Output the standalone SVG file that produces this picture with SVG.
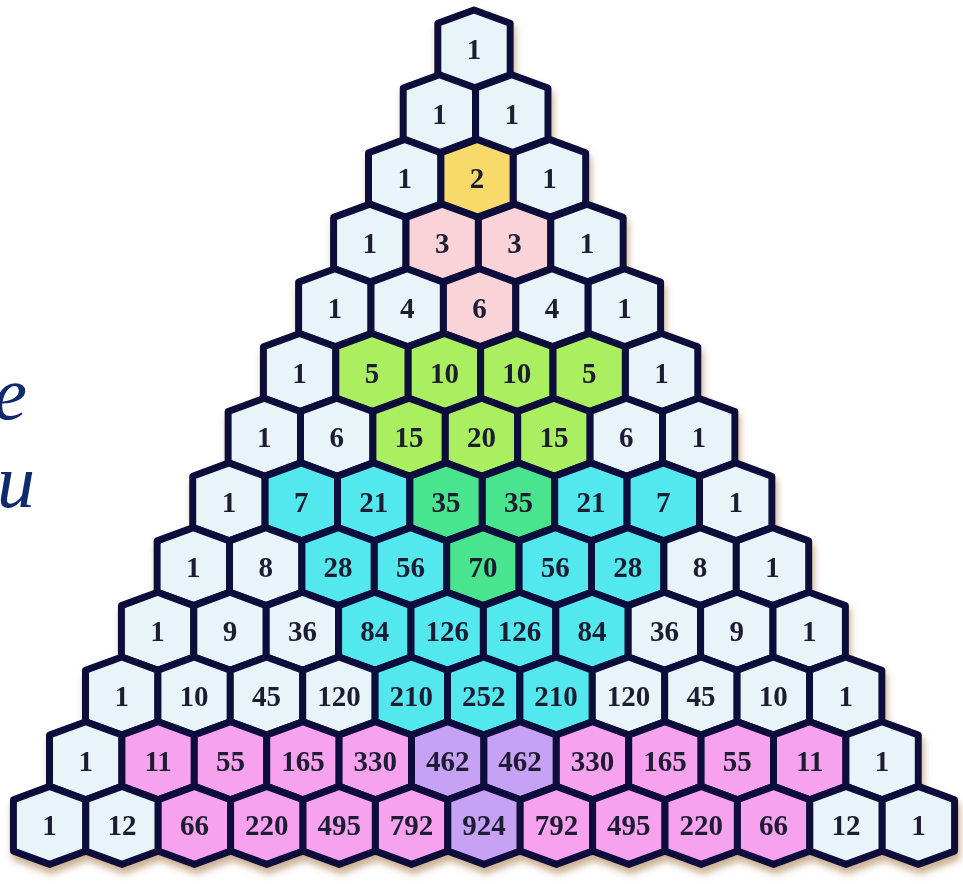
<svg xmlns="http://www.w3.org/2000/svg" xmlns:xlink="http://www.w3.org/1999/xlink" width="963" height="884" viewBox="0 0 963 884">
<style>
.L{fill:#e9f4f9}.Y{fill:#f7da6a}.P{fill:#f9d3d8}.G{fill:#a9ef5e}.E{fill:#48e58e}.C{fill:#52e7ee}.M{fill:#f6a2ef}.V{fill:#c7a2f4}
text.v{font-family:"Liberation Serif","Times New Roman",serif;font-size:29px;font-weight:bold;text-anchor:middle;fill:#1e1a30}
text.side{font-family:"Liberation Serif","Times New Roman",serif;font-style:italic;font-size:76px;fill:#0f2b6e;text-anchor:end}
</style>
<defs>
<polygon id="h" points="0,-39 36.2,-25.7 36.2,25.7 0,39 -36.2,25.7 -36.2,-25.7" stroke="#0c0b3a" stroke-width="7" stroke-linejoin="round"/>
<filter id="sh" x="-5%" y="-5%" width="110%" height="115%">
<feDropShadow dx="2" dy="6" stdDeviation="3.5" flood-color="#a0703a" flood-opacity="0.55"/>
</filter>
</defs>
<rect width="963" height="884" fill="#ffffff"/>
<text class="side" x="27" y="419">e</text>
<text class="side" x="35" y="507">u</text>
<g id="connectors"/>
<g id="nodes" filter="url(#sh)">
<g id="r0c0"><use href="#h" x="474" y="49" class="L"/><text class="v" x="474" y="59">1</text></g>

<g id="r1c0"><use href="#h" x="439.4" y="113.7" class="L"/><text class="v" x="439.4" y="123.7">1</text></g>
<g id="r1c1"><use href="#h" x="511.8" y="113.7" class="L"/><text class="v" x="511.8" y="123.7">1</text></g>

<g id="r2c0"><use href="#h" x="404.7" y="178.4" class="L"/><text class="v" x="404.7" y="188.4">1</text></g>
<g id="r2c1"><use href="#h" x="477.1" y="178.4" class="Y"/><text class="v" x="477.1" y="188.4">2</text></g>
<g id="r2c2"><use href="#h" x="549.5" y="178.4" class="L"/><text class="v" x="549.5" y="188.4">1</text></g>

<g id="r3c0"><use href="#h" x="369.8" y="243.1" class="L"/><text class="v" x="369.8" y="253.1">1</text></g>
<g id="r3c1"><use href="#h" x="442.2" y="243.1" class="P"/><text class="v" x="442.2" y="253.1">3</text></g>
<g id="r3c2"><use href="#h" x="514.6" y="243.1" class="P"/><text class="v" x="514.6" y="253.1">3</text></g>
<g id="r3c3"><use href="#h" x="587" y="243.1" class="L"/><text class="v" x="587" y="253.1">1</text></g>

<g id="r4c0"><use href="#h" x="334.8" y="307.8" class="L"/><text class="v" x="334.8" y="317.8">1</text></g>
<g id="r4c1"><use href="#h" x="407.2" y="307.8" class="L"/><text class="v" x="407.2" y="317.8">4</text></g>
<g id="r4c2"><use href="#h" x="479.6" y="307.8" class="P"/><text class="v" x="479.6" y="317.8">6</text></g>
<g id="r4c3"><use href="#h" x="552" y="307.8" class="L"/><text class="v" x="552" y="317.8">4</text></g>
<g id="r4c4"><use href="#h" x="624.4" y="307.8" class="L"/><text class="v" x="624.4" y="317.8">1</text></g>

<g id="r5c0"><use href="#h" x="299.6" y="372.5" class="L"/><text class="v" x="299.6" y="382.5">1</text></g>
<g id="r5c1"><use href="#h" x="372" y="372.5" class="G"/><text class="v" x="372" y="382.5">5</text></g>
<g id="r5c2"><use href="#h" x="444.4" y="372.5" class="G"/><text class="v" x="444.4" y="382.5">10</text></g>
<g id="r5c3"><use href="#h" x="516.8" y="372.5" class="G"/><text class="v" x="516.8" y="382.5">10</text></g>
<g id="r5c4"><use href="#h" x="589.2" y="372.5" class="G"/><text class="v" x="589.2" y="382.5">5</text></g>
<g id="r5c5"><use href="#h" x="661.6" y="372.5" class="L"/><text class="v" x="661.6" y="382.5">1</text></g>

<g id="r6c0"><use href="#h" x="264.3" y="437.2" class="L"/><text class="v" x="264.3" y="447.2">1</text></g>
<g id="r6c1"><use href="#h" x="336.7" y="437.2" class="L"/><text class="v" x="336.7" y="447.2">6</text></g>
<g id="r6c2"><use href="#h" x="409.1" y="437.2" class="G"/><text class="v" x="409.1" y="447.2">15</text></g>
<g id="r6c3"><use href="#h" x="481.5" y="437.2" class="G"/><text class="v" x="481.5" y="447.2">20</text></g>
<g id="r6c4"><use href="#h" x="553.9" y="437.2" class="G"/><text class="v" x="553.9" y="447.2">15</text></g>
<g id="r6c5"><use href="#h" x="626.3" y="437.2" class="L"/><text class="v" x="626.3" y="447.2">6</text></g>
<g id="r6c6"><use href="#h" x="698.7" y="437.2" class="L"/><text class="v" x="698.7" y="447.2">1</text></g>

<g id="r7c0"><use href="#h" x="228.9" y="501.9" class="L"/><text class="v" x="228.9" y="511.9">1</text></g>
<g id="r7c1"><use href="#h" x="301.3" y="501.9" class="C"/><text class="v" x="301.3" y="511.9">7</text></g>
<g id="r7c2"><use href="#h" x="373.7" y="501.9" class="C"/><text class="v" x="373.7" y="511.9">21</text></g>
<g id="r7c3"><use href="#h" x="446.1" y="501.9" class="E"/><text class="v" x="446.1" y="511.9">35</text></g>
<g id="r7c4"><use href="#h" x="518.5" y="501.9" class="E"/><text class="v" x="518.5" y="511.9">35</text></g>
<g id="r7c5"><use href="#h" x="590.9" y="501.9" class="C"/><text class="v" x="590.9" y="511.9">21</text></g>
<g id="r7c6"><use href="#h" x="663.3" y="501.9" class="C"/><text class="v" x="663.3" y="511.9">7</text></g>
<g id="r7c7"><use href="#h" x="735.7" y="501.9" class="L"/><text class="v" x="735.7" y="511.9">1</text></g>

<g id="r8c0"><use href="#h" x="193.3" y="566.6" class="L"/><text class="v" x="193.3" y="576.6">1</text></g>
<g id="r8c1"><use href="#h" x="265.7" y="566.6" class="L"/><text class="v" x="265.7" y="576.6">8</text></g>
<g id="r8c2"><use href="#h" x="338.1" y="566.6" class="C"/><text class="v" x="338.1" y="576.6">28</text></g>
<g id="r8c3"><use href="#h" x="410.5" y="566.6" class="C"/><text class="v" x="410.5" y="576.6">56</text></g>
<g id="r8c4"><use href="#h" x="482.9" y="566.6" class="E"/><text class="v" x="482.9" y="576.6">70</text></g>
<g id="r8c5"><use href="#h" x="555.3" y="566.6" class="C"/><text class="v" x="555.3" y="576.6">56</text></g>
<g id="r8c6"><use href="#h" x="627.7" y="566.6" class="C"/><text class="v" x="627.7" y="576.6">28</text></g>
<g id="r8c7"><use href="#h" x="700.1" y="566.6" class="L"/><text class="v" x="700.1" y="576.6">8</text></g>
<g id="r8c8"><use href="#h" x="772.5" y="566.6" class="L"/><text class="v" x="772.5" y="576.6">1</text></g>

<g id="r9c0"><use href="#h" x="157.6" y="631.3" class="L"/><text class="v" x="157.6" y="641.3">1</text></g>
<g id="r9c1"><use href="#h" x="230" y="631.3" class="L"/><text class="v" x="230" y="641.3">9</text></g>
<g id="r9c2"><use href="#h" x="302.4" y="631.3" class="L"/><text class="v" x="302.4" y="641.3">36</text></g>
<g id="r9c3"><use href="#h" x="374.8" y="631.3" class="C"/><text class="v" x="374.8" y="641.3">84</text></g>
<g id="r9c4"><use href="#h" x="447.2" y="631.3" class="C"/><text class="v" x="447.2" y="641.3">126</text></g>
<g id="r9c5"><use href="#h" x="519.6" y="631.3" class="C"/><text class="v" x="519.6" y="641.3">126</text></g>
<g id="r9c6"><use href="#h" x="592" y="631.3" class="C"/><text class="v" x="592" y="641.3">84</text></g>
<g id="r9c7"><use href="#h" x="664.4" y="631.3" class="L"/><text class="v" x="664.4" y="641.3">36</text></g>
<g id="r9c8"><use href="#h" x="736.8" y="631.3" class="L"/><text class="v" x="736.8" y="641.3">9</text></g>
<g id="r9c9"><use href="#h" x="809.2" y="631.3" class="L"/><text class="v" x="809.2" y="641.3">1</text></g>

<g id="r10c0"><use href="#h" x="121.7" y="696" class="L"/><text class="v" x="121.7" y="706">1</text></g>
<g id="r10c1"><use href="#h" x="194.1" y="696" class="L"/><text class="v" x="194.1" y="706">10</text></g>
<g id="r10c2"><use href="#h" x="266.5" y="696" class="L"/><text class="v" x="266.5" y="706">45</text></g>
<g id="r10c3"><use href="#h" x="338.9" y="696" class="L"/><text class="v" x="338.9" y="706">120</text></g>
<g id="r10c4"><use href="#h" x="411.3" y="696" class="C"/><text class="v" x="411.3" y="706">210</text></g>
<g id="r10c5"><use href="#h" x="483.7" y="696" class="C"/><text class="v" x="483.7" y="706">252</text></g>
<g id="r10c6"><use href="#h" x="556.1" y="696" class="C"/><text class="v" x="556.1" y="706">210</text></g>
<g id="r10c7"><use href="#h" x="628.5" y="696" class="L"/><text class="v" x="628.5" y="706">120</text></g>
<g id="r10c8"><use href="#h" x="700.9" y="696" class="L"/><text class="v" x="700.9" y="706">45</text></g>
<g id="r10c9"><use href="#h" x="773.3" y="696" class="L"/><text class="v" x="773.3" y="706">10</text></g>
<g id="r10c10"><use href="#h" x="845.7" y="696" class="L"/><text class="v" x="845.7" y="706">1</text></g>

<g id="r11c0"><use href="#h" x="85.7" y="760.7" class="L"/><text class="v" x="85.7" y="770.7">1</text></g>
<g id="r11c1"><use href="#h" x="158.1" y="760.7" class="M"/><text class="v" x="158.1" y="770.7">11</text></g>
<g id="r11c2"><use href="#h" x="230.5" y="760.7" class="M"/><text class="v" x="230.5" y="770.7">55</text></g>
<g id="r11c3"><use href="#h" x="302.9" y="760.7" class="M"/><text class="v" x="302.9" y="770.7">165</text></g>
<g id="r11c4"><use href="#h" x="375.3" y="760.7" class="M"/><text class="v" x="375.3" y="770.7">330</text></g>
<g id="r11c5"><use href="#h" x="447.7" y="760.7" class="V"/><text class="v" x="447.7" y="770.7">462</text></g>
<g id="r11c6"><use href="#h" x="520.1" y="760.7" class="V"/><text class="v" x="520.1" y="770.7">462</text></g>
<g id="r11c7"><use href="#h" x="592.5" y="760.7" class="M"/><text class="v" x="592.5" y="770.7">330</text></g>
<g id="r11c8"><use href="#h" x="664.9" y="760.7" class="M"/><text class="v" x="664.9" y="770.7">165</text></g>
<g id="r11c9"><use href="#h" x="737.3" y="760.7" class="M"/><text class="v" x="737.3" y="770.7">55</text></g>
<g id="r11c10"><use href="#h" x="809.7" y="760.7" class="M"/><text class="v" x="809.7" y="770.7">11</text></g>
<g id="r11c11"><use href="#h" x="882.1" y="760.7" class="L"/><text class="v" x="882.1" y="770.7">1</text></g>

<g id="r12c0"><use href="#h" x="49.6" y="825.4" class="L"/><text class="v" x="49.6" y="835.4">1</text></g>
<g id="r12c1"><use href="#h" x="122" y="825.4" class="L"/><text class="v" x="122" y="835.4">12</text></g>
<g id="r12c2"><use href="#h" x="194.4" y="825.4" class="M"/><text class="v" x="194.4" y="835.4">66</text></g>
<g id="r12c3"><use href="#h" x="266.8" y="825.4" class="M"/><text class="v" x="266.8" y="835.4">220</text></g>
<g id="r12c4"><use href="#h" x="339.2" y="825.4" class="M"/><text class="v" x="339.2" y="835.4">495</text></g>
<g id="r12c5"><use href="#h" x="411.6" y="825.4" class="M"/><text class="v" x="411.6" y="835.4">792</text></g>
<g id="r12c6"><use href="#h" x="484" y="825.4" class="V"/><text class="v" x="484" y="835.4">924</text></g>
<g id="r12c7"><use href="#h" x="556.4" y="825.4" class="M"/><text class="v" x="556.4" y="835.4">792</text></g>
<g id="r12c8"><use href="#h" x="628.8" y="825.4" class="M"/><text class="v" x="628.8" y="835.4">495</text></g>
<g id="r12c9"><use href="#h" x="701.2" y="825.4" class="M"/><text class="v" x="701.2" y="835.4">220</text></g>
<g id="r12c10"><use href="#h" x="773.6" y="825.4" class="M"/><text class="v" x="773.6" y="835.4">66</text></g>
<g id="r12c11"><use href="#h" x="846" y="825.4" class="L"/><text class="v" x="846" y="835.4">12</text></g>
<g id="r12c12"><use href="#h" x="918.4" y="825.4" class="L"/><text class="v" x="918.4" y="835.4">1</text></g>
</g>
</svg>
